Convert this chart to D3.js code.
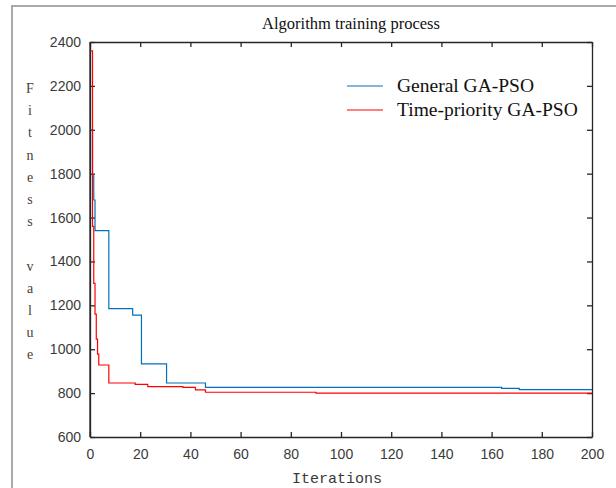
<!DOCTYPE html>
<html>
<head>
<meta charset="utf-8">
<script src="https://cdn.jsdelivr.net/npm/d3@7"></script>
<style>
  body { margin: 0; background: #fff; }
  svg { display: block; }
</style>
</head>
<body>
<div id="vis-container"></div>
<script>
const width = 616;
const height = 488;
const margin = { top: 42, right: 24, bottom: 51, left: 90 };

// Data: [iteration, fitness]
const generalIters  = [0, 1, 1.5, 2, 7.5, 17, 20.5, 30.5, 46, 164, 171, 200];
const generalValues = [2000, 1790, 1680, 1540, 1185, 1155, 933, 846, 826, 822, 816, 816];
const timeIters  = [0, 1, 1.5, 2, 2.5, 3, 3.5, 7.5, 18, 23, 37, 42, 46, 90, 200];
const timeValues = [2360, 1560, 1300, 1160, 1046, 978, 928, 846, 840, 830, 826, 815, 804, 800, 800];

const xTicks = d3.range(0, 201, 20);
const yTicks = d3.range(600, 2401, 200);
const seriesNames = ["General GA-PSO", "Time-priority GA-PSO"];
const seriesColors = ["#0072BD", "#FF0000"];
const yLabelChars = "Fitness value".split("");

const svg = d3.select("#vis-container")
  .append("svg")
  .attr("width", width)
  .attr("height", height);

// figure frame
svg.append("path")
  .attr("d", `M12,${height} L12,6 L${width},6`)
  .attr("fill", "none")
  .attr("stroke", "#a9a9a9")
  .attr("stroke-width", 2);

const x = d3.scaleLinear()
  .domain([0, 200])
  .range([margin.left, width - margin.right]);

const y = d3.scaleLinear()
  .domain([600, 2400])
  .range([height - margin.bottom, margin.top]);

const axisColor = "#262626";
const tickFont = "'Liberation Sans', Arial, sans-serif";
const fmt = d3.format("d");

// Axes (ticks inward like MATLAB)
const xAxisB = svg.append("g")
  .attr("transform", `translate(0,${y(600)})`)
  .call(d3.axisBottom(x).tickValues(xTicks).tickFormat(fmt).tickSizeInner(-5).tickSizeOuter(0).tickPadding(12));
const xAxisT = svg.append("g")
  .attr("transform", `translate(0,${y(2400)})`)
  .call(d3.axisTop(x).tickValues(xTicks).tickSizeInner(-5).tickSizeOuter(0).tickFormat(""));
const yAxisL = svg.append("g")
  .attr("transform", `translate(${x(0)},0)`)
  .call(d3.axisLeft(y).tickValues(yTicks).tickFormat(fmt).tickSizeInner(-5).tickSizeOuter(0).tickPadding(9));
const yAxisR = svg.append("g")
  .attr("transform", `translate(${x(200)},0)`)
  .call(d3.axisRight(y).tickValues(yTicks).tickSizeInner(-5).tickSizeOuter(0).tickFormat(""));

[xAxisB, xAxisT, yAxisL, yAxisR].forEach(g => {
  g.select(".domain").attr("stroke", axisColor).attr("stroke-width", 1.3);
  g.selectAll(".tick line").attr("stroke", axisColor).attr("stroke-width", 1.3);
  g.selectAll(".tick text")
    .attr("fill", "#3a3a3a")
    .attr("font-family", tickFont)
    .attr("font-size", "14px");
});

// Lines
const line = d3.line()
  .x(d => x(d[0]))
  .y(d => y(d[1]))
  .curve(d3.curveStepAfter);

const series = [
  d3.zip(generalIters, generalValues),
  d3.zip(timeIters, timeValues)
];

svg.append("g")
  .selectAll("path")
  .data(series)
  .enter()
  .append("path")
    .attr("d", line)
    .attr("fill", "none")
    .attr("stroke", (d, i) => seriesColors[i])
    .attr("stroke-width", 1.2);

// left axis line on top of the curves
svg.append("line")
  .attr("x1", x(0)).attr("x2", x(0))
  .attr("y1", y(600)).attr("y2", y(2400))
  .attr("stroke", axisColor).attr("stroke-width", 1.3);

// Title
svg.append("text")
  .attr("x", 351)
  .attr("y", 29)
  .attr("text-anchor", "middle")
  .attr("font-family", "'Liberation Serif', 'Times New Roman', serif")
  .attr("font-size", "16.5px")
  .attr("fill", "#111")
  .text("Algorithm training process");

// X label
svg.append("text")
  .attr("x", 337)
  .attr("y", 483)
  .attr("text-anchor", "middle")
  .attr("font-family", "'Liberation Mono', 'Courier New', monospace")
  .attr("font-size", "15px")
  .attr("fill", "#3a3a3a")
  .text("Iterations");

// Y label, stacked characters
svg.append("g")
  .selectAll("text")
  .data(yLabelChars)
  .enter()
  .append("text")
    .attr("x", 30)
    .attr("y", (d, i) => 93 + i * 22.2)
    .attr("text-anchor", "middle")
    .attr("font-family", "'Liberation Serif', 'Times New Roman', serif")
    .attr("font-size", "14px")
    .attr("fill", "#4a4038")
    .text(d => d);

// Legend
const legend = svg.append("g")
  .attr("transform", "translate(347,86)");

const legendItems = legend.selectAll("g")
  .data(seriesNames)
  .enter()
  .append("g")
    .attr("transform", (d, i) => `translate(0,${i * 24})`);

legendItems.append("line")
  .attr("x1", 0).attr("x2", 36)
  .attr("y1", 0).attr("y2", 0)
  .attr("stroke", (d, i) => seriesColors[i])
  .attr("stroke-width", 1.2);

legendItems.append("text")
  .attr("x", 50)
  .attr("y", 6)
  .attr("font-family", "'Liberation Serif', 'Times New Roman', serif")
  .attr("font-size", "19.5px")
  .attr("fill", "#111")
  .text(d => d);
</script>
</body>
</html>
